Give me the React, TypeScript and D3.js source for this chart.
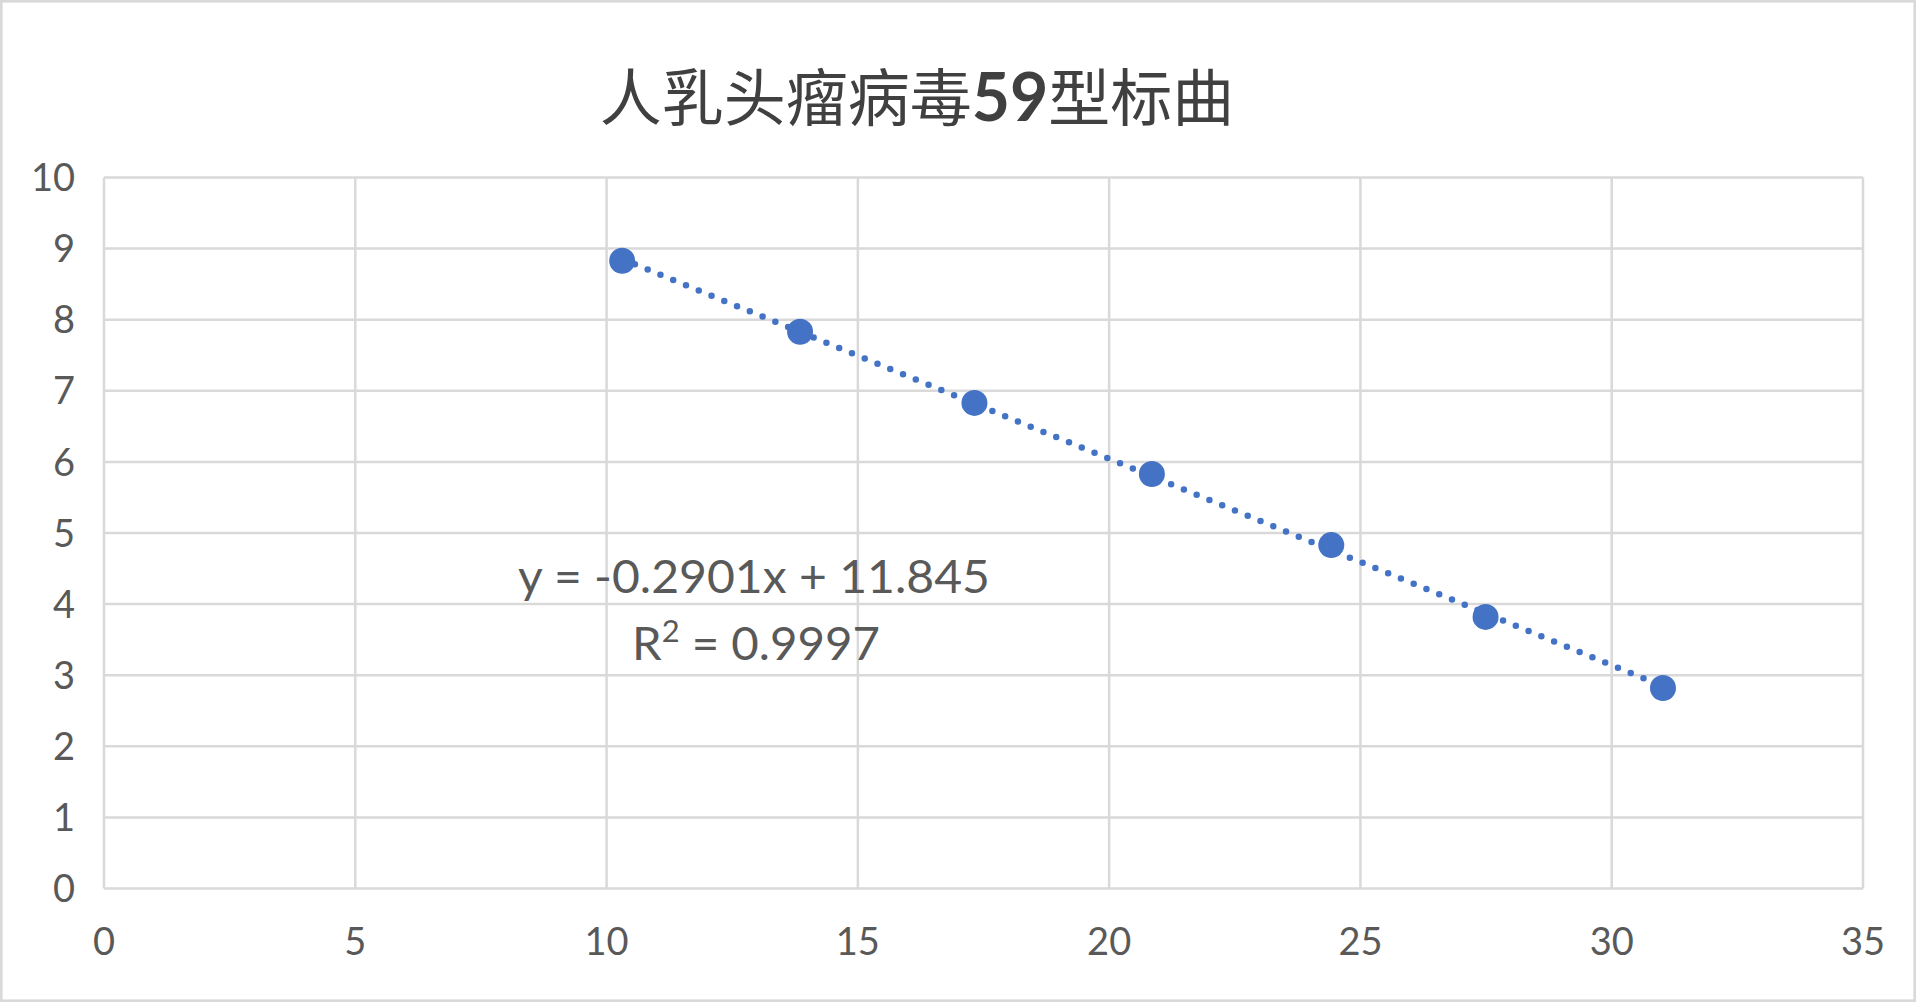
import React, { useEffect, useRef } from 'react';
import * as d3 from 'd3';

// Ct values (x) and log copy numbers (y)
const ctValues = [10.31, 13.85, 17.32, 20.85, 24.42, 27.49, 31.02];
const logCopies = [8.83, 7.83, 6.83, 5.83, 4.83, 3.82, 2.82];

const xTicks = [0, 5, 10, 15, 20, 25, 30, 35];
const yTicks = [0, 1, 2, 3, 4, 5, 6, 7, 8, 9, 10];

// trendline as printed on the chart
const slope = -0.2901;
const intercept = 11.845;
const equationText = 'y = -0.2901x + 11.845';
const r2Value = '0.9997';

const titleText = '人乳头瘤病毒59型标曲';

export default function App() {
  const svgRef = useRef<SVGSVGElement>(null);

  useEffect(() => {
    if (!svgRef.current) return;
    const svg = d3.select(svgRef.current);
    svg.selectAll('*').remove();

    const width = 1916;
    const height = 1002;
    const margin = { top: 177.5, right: 53, bottom: 113.5, left: 104 };
    const blue = '#4472C4';
    const grid = '#d9d9d9';
    const textColor = '#595959';
    const font = 'Lato, "Open Sans", sans-serif';

    const x = d3.scaleLinear().domain([0, 35]).range([margin.left, width - margin.right]);
    const y = d3.scaleLinear().domain([0, 10]).range([height - margin.bottom, margin.top]);

    svg.append('rect')
      .attr('width', width).attr('height', height).attr('fill', '#fff');

    // chart area border
    svg.append('rect')
      .attr('x', 1.3).attr('y', 1.3)
      .attr('width', width - 2.6).attr('height', height - 2.6)
      .attr('fill', 'none').attr('stroke', grid).attr('stroke-width', 2.6);

    // gridlines
    svg.append('g')
      .selectAll('line')
      .data(yTicks)
      .join('line')
      .attr('x1', x(0)).attr('x2', x(35))
      .attr('y1', d => y(d)).attr('y2', d => y(d))
      .attr('stroke', grid).attr('stroke-width', 2.5);

    svg.append('g')
      .selectAll('line')
      .data(xTicks)
      .join('line')
      .attr('x1', d => x(d)).attr('x2', d => x(d))
      .attr('y1', y(0)).attr('y2', y(10))
      .attr('stroke', grid).attr('stroke-width', 2.5);

    // tick labels
    svg.append('g')
      .selectAll('text')
      .data(yTicks)
      .join('text')
      .attr('x', 75)
      .attr('y', d => y(d) + 13.6)
      .attr('text-anchor', 'end')
      .attr('font-family', font).attr('font-size', 38)
      .attr('fill', textColor)
      .text(d => d);

    svg.append('g')
      .selectAll('text')
      .data(xTicks)
      .join('text')
      .attr('x', d => x(d))
      .attr('y', 955)
      .attr('text-anchor', 'middle')
      .attr('font-family', font).attr('font-size', 38)
      .attr('fill', textColor)
      .text(d => d);

    // dotted trendline over the data range
    const xExtent = d3.extent(ctValues) as [number, number];
    const trend = d3.line<number>()
      .x(d => x(d))
      .y(d => y(slope * d + intercept));

    svg.append('path')
      .datum(xExtent)
      .attr('d', trend)
      .attr('fill', 'none')
      .attr('stroke', blue)
      .attr('stroke-width', 6.5)
      .attr('stroke-linecap', 'round')
      .attr('stroke-dasharray', '0 13.8');

    // data points
    svg.append('g')
      .selectAll('circle')
      .data(ctValues)
      .join('circle')
      .attr('cx', d => x(d))
      .attr('cy', (d, i) => y(logCopies[i]))
      .attr('r', 13)
      .attr('fill', blue);

    // equation label
    svg.append('text')
      .attr('x', 518).attr('y', 593)
      .attr('font-family', font).attr('font-size', 46)
      .attr('textLength', 472).attr('lengthAdjust', 'spacingAndGlyphs')
      .attr('fill', textColor)
      .text(equationText);

    const r2 = svg.append('text')
      .attr('x', 632).attr('y', 660)
      .attr('font-family', font).attr('font-size', 46)
      .attr('textLength', 248).attr('lengthAdjust', 'spacingAndGlyphs')
      .attr('fill', textColor);
    r2.append('tspan').text('R');
    r2.append('tspan').attr('font-size', 30).attr('dy', -18).text('2');
    r2.append('tspan').attr('dy', 18).text(` = ${r2Value}`);

    // title
    const title = svg.append('text')
      .attr('x', 917).attr('y', 121)
      .attr('text-anchor', 'middle')
      .attr('font-family', '"Noto Sans CJK SC", sans-serif')
      .attr('font-size', 62)
      .attr('font-weight', 400)
      .attr('fill', '#404040');
    const parts = titleText.split(/(\d+)/);
    parts.forEach(p => {
      if (!p) return;
      const t = title.append('tspan').text(p);
      if (/\d/.test(p)) t.attr('font-family', font).attr('font-weight', 'bold').attr('font-size', 66);
    });
  }, []);

  return (
    <div style={{ position: 'absolute', left: 0, top: 0, width: 1916, height: 1002 }}>
      <svg ref={svgRef} width="1916" height="1002" style={{ display: 'block' }} />
    </div>
  );
}
